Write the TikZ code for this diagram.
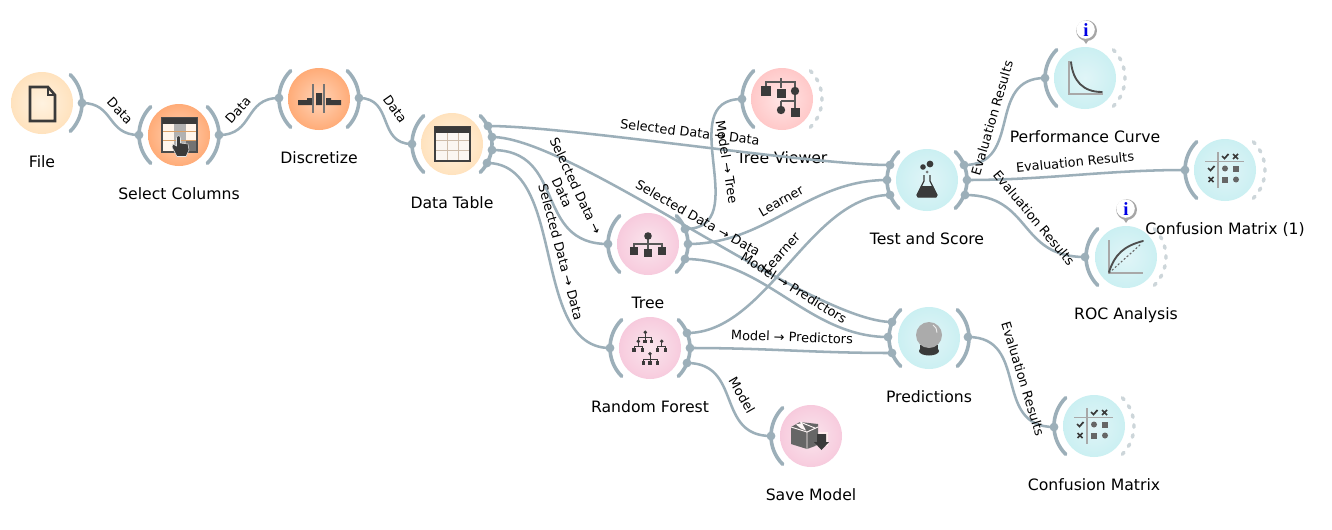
\documentclass[tikz,border=0pt]{standalone}
\usepackage{fontspec}
\setmainfont{DejaVu Sans}
\newfontfamily\infofont{Liberation Serif}
\usetikzlibrary{calc}
\definecolor{linkgray}{HTML}{9CAFB9}
\definecolor{dashgray}{HTML}{CDD6DA}
\definecolor{icondark}{HTML}{3A3A3A}
\definecolor{icongray}{HTML}{A8A8A8}
\pgfdeclareradialshading{wfile}{\pgfpoint{0bp}{0bp}}{rgb(0bp)=(1,0.95,0.88);rgb(24bp)=(1,0.89,0.75);rgb(35bp)=(1,0.84,0.64);rgb(50bp)=(1,0.84,0.64)}
\pgfdeclareradialshading{wtrans}{\pgfpoint{0bp}{0bp}}{rgb(0bp)=(1,0.83,0.72);rgb(24bp)=(1,0.68,0.48);rgb(35bp)=(1,0.59,0.34);rgb(50bp)=(1,0.59,0.34)}
\pgfdeclareradialshading{wpink}{\pgfpoint{0bp}{0bp}}{rgb(0bp)=(0.98,0.90,0.93);rgb(24bp)=(0.97,0.80,0.87);rgb(35bp)=(0.965,0.72,0.82);rgb(50bp)=(0.965,0.72,0.82)}
\pgfdeclareradialshading{wteal}{\pgfpoint{0bp}{0bp}}{rgb(0bp)=(0.88,0.96,0.97);rgb(24bp)=(0.80,0.94,0.95);rgb(35bp)=(0.72,0.93,0.94);rgb(50bp)=(0.72,0.93,0.94)}
\pgfdeclareradialshading{wsalmon}{\pgfpoint{0bp}{0bp}}{rgb(0bp)=(1,0.90,0.90);rgb(24bp)=(1,0.79,0.79);rgb(35bp)=(1,0.70,0.70);rgb(50bp)=(1,0.70,0.70)}
\tikzset{
  wbody/.style={circle,draw=none,minimum size=46.5pt,inner sep=0pt,shading=#1},
  chan/.style={draw=linkgray,line width=2.7pt,line cap=round},
  chandash/.style={draw=dashgray,line width=2.6pt,line cap=round,dash pattern=on 1.9pt off 5.63pt},
  link/.style={draw=linkgray,line width=1.9pt},
  portdot/.style={fill=linkgray},
  wtitle/.style={font=\fontsize{11.75}{13}\selectfont,inner sep=0pt,text=black,yshift=-0.5pt},
  elab/.style={font=\fontsize{9.65}{11.4}\selectfont,inner sep=0pt,text=black,align=center},
  ic/.style={fill=icondark,draw=none},
  icl/.style={draw=icondark!85,line width=0.9pt},
  infotext/.style={font=\infofont\bfseries\fontsize{14}{14}\selectfont,text=blue!90!black,inner sep=0pt},
}
\newcommand{\wdg}[6]{% name x y shading titleY title
  \node[wbody=#4] (#1) at (#2,#3) {};
  \node[wtitle] (#1-t) at (#2,#5) {#6};
}
\newcommand{\chanin}[1]{\draw[chan] (#1.center) ++(135:40) arc (135:225:40);}
\newcommand{\chanout}[1]{\draw[chan] (#1.center) ++(45:40) arc (45:-45:40);}
\newcommand{\chanopen}[1]{\draw[chandash] (#1.center) ++(45:40) arc (45:-45:40);}
\newcommand{\mkport}[3]{\coordinate (#1) at (#2,#3);\fill[portdot] (#1) circle (4.4);}
% link: horizontal handles, half the distance between the ports, capped at 80 px (60 pt)
\newcommand{\lnk}[2]{\draw[link] let \p1=($(#1)-(#2)$),\n1={min(0.5*veclen(\x1,\y1),60pt)} in (#1) .. controls +(\n1,0) and +(-\n1,0) .. (#2);}
\newcommand{\sq}[3]{\fill[ic] ({#1-#3},{#2-#3}) rectangle ({#1+#3},{#2+#3});}
\newcommand{\dotc}[3]{\fill[ic] (#1,#2) circle (#3);}
\newcommand{\cmicon}[1]{%
\begin{scope}[shift={(#1.center)}]
 \draw[icongray,line width=1.1pt] (-7,-18) -- (-7,18);
 \draw[icongray,line width=1.1pt] (-20,-8.5) -- (19,-8.5);
 \draw[icondark,line width=1.3pt] (-3,-14) -- (-0.5,-11.5) -- (3.5,-16);
 \draw[icondark,line width=1.3pt] (8,-16) -- (13,-11) (13,-16) -- (8,-11);
 \draw[icondark,line width=1.3pt] (-17,-2) -- (-14.5,0.5) -- (-10.5,-4);
 \draw[icondark,line width=1.3pt] (-16.5,7) -- (-11.5,12) (-11.5,7) -- (-16.5,12);
 \fill[black!60] (0,-1.5) circle (3);
 \fill[black!60] (8,-4.5) rectangle (14,1.5);
 \fill[black!60] (-3,6.5) rectangle (3,12.5);
 \fill[black!60] (11,9.5) circle (3);
\end{scope}}
\newcommand{\infobubble}[3]{%
 \fill[black!35] (#2+0.6,#3+0.6) circle (10.4);
 \fill[black!35] (#2-4,#3+8) -- (#2,#3+14) -- (#2+4,#3+8) -- cycle;
 \fill[white] (#2-0.4,#3-0.4) circle (9.2);
 \node[infotext] (#1) at (#2,#3) {i};}
\begin{document}
\begin{tikzpicture}[x=0.75pt,y=-0.75pt]
\useasboundingbox (0,0) rectangle (1332,529);
\fill[white] (0,0) rectangle (1332,529);
% ---------- widgets
\wdg{file}{42}{103}{wfile}{161}{File}
\wdg{sel}{179}{135}{wtrans}{193}{Select Columns}
\wdg{disc}{319}{99}{wtrans}{157}{Discretize}
\wdg{dt}{452}{144}{wfile}{202}{Data Table}
\wdg{tv}{782}{99}{wsalmon}{157}{Tree Viewer}
\wdg{tree}{648}{244}{wpink}{302}{Tree}
\wdg{rf}{650}{348}{wpink}{406}{Random Forest}
\wdg{ts}{927}{180}{wteal}{238}{Test and Score}
\wdg{pred}{929}{338}{wteal}{396}{Predictions}
\wdg{save}{811}{436}{wpink}{494}{Save Model}
\wdg{perf}{1085}{78}{wteal}{136}{Performance Curve}
\wdg{cma}{1225}{170}{wteal}{229}{Confusion Matrix (1)}
\wdg{roc}{1126}{257}{wteal}{315}{ROC Analysis}
\wdg{cmb}{1094}{426}{wteal}{484}{Confusion Matrix}
% ---------- channel arcs
\chanout{file}
\chanin{sel}\chanout{sel}
\chanin{disc}\chanout{disc}
\chanin{dt}\chanout{dt}
\chanin{tv}\chanopen{tv}
\chanin{tree}\chanout{tree}
\chanin{rf}\chanout{rf}
\chanin{ts}\chanout{ts}
\chanin{pred}\chanout{pred}
\chanin{save}
\chanin{perf}\chanopen{perf}
\chanin{cma}\chanopen{cma}
\chanin{roc}\chanopen{roc}
\chanin{cmb}\chanopen{cmb}
% ---------- ports
\mkport{file-o}{82}{103}
\mkport{sel-i}{139}{135}\mkport{sel-o}{219}{135}
\mkport{disc-i}{279}{98}\mkport{disc-o}{359}{98}
\mkport{dt-i}{412}{144}
\mkport{dt-o1}{488}{126}\mkport{dt-o2}{492}{137}\mkport{dt-o3}{492}{150}\mkport{dt-o4}{487}{163}
\mkport{tv-i}{742}{99}
\mkport{tree-i}{608}{244}
\mkport{tree-o1}{685}{229}\mkport{tree-o2}{688}{244}\mkport{tree-o3}{685}{259}
\mkport{rf-i}{610}{348}
\mkport{rf-o1}{687}{333}\mkport{rf-o2}{690}{348}\mkport{rf-o3}{687}{363}
\mkport{ts-i1}{890}{165}\mkport{ts-i2}{887}{180}\mkport{ts-i3}{890}{195}
\mkport{ts-o1}{964}{165}\mkport{ts-o2}{967}{180}\mkport{ts-o3}{965}{195}
\mkport{pred-i1}{892}{322}\mkport{pred-i2}{888}{337}\mkport{pred-i3}{892}{353}
\mkport{pred-o}{968}{337}
\mkport{save-i}{771}{436}
\mkport{perf-i}{1045}{78}
\mkport{cma-i}{1185}{170}
\mkport{roc-i}{1085}{257}
\mkport{cmb-i}{1054}{427}
% ---------- links
\lnk{file-o}{sel-i}
\lnk{sel-o}{disc-i}
\lnk{disc-o}{dt-i}
\lnk{dt-o1}{ts-i1}
\lnk{dt-o2}{pred-i1}
\lnk{dt-o3}{tree-i}
\lnk{dt-o4}{rf-i}
\lnk{tree-o1}{tv-i}
\lnk{tree-o2}{ts-i2}
\lnk{tree-o3}{pred-i2}
\lnk{rf-o1}{ts-i3}
\lnk{rf-o2}{pred-i3}
\lnk{rf-o3}{save-i}
\lnk{ts-o1}{perf-i}
\lnk{ts-o2}{cma-i}
\lnk{ts-o3}{roc-i}
\lnk{pred-o}{cmb-i}
% ---------- icons
\begin{scope}[shift={(file.center)}]
 \draw[icondark,line width=1.9pt,line join=miter] (-12,-16) -- (6,-16) -- (13,-8) -- (13,18) -- (-12,18) -- cycle;
 \draw[icondark,line width=0.9pt] (6,-16) -- (6,-8) -- (13,-8);
\end{scope}
\begin{scope}[shift={(sel.center)}]
 \fill[white!92!orange] (-17,-17) rectangle (18,17);
 \fill[icongray!90] (-5,-12) rectangle (7,17);
 \fill[black!55] (7,6) rectangle (18,17);
 \draw[black!25!orange!60,line width=0.5pt] (-17,-4) -- (18,-4) (-17,5) -- (18,5);
 \draw[black!70,line width=1.1pt] (-17,-17) rectangle (18,17);
 \fill[icondark] (-17,-17) rectangle (18,-11.5);
 \fill[icondark,draw=white!80!gray,line width=0.4pt] (-2.5,3) .. controls (-2.5,0) and (1.5,0) .. (1.5,3) -- (1.5,8) -- (9,9) -- (10,15) -- (7,21.5) -- (-2,21.5) -- (-7,12) -- (-6,9) -- (-2.5,11) -- cycle;
\end{scope}
\begin{scope}[shift={(disc.center)}]
 \fill[icondark] (-21,1) rectangle (-12,6) (-12,-1) rectangle (-7,6) (-3,-6) rectangle (3,6) (7,-1) rectangle (12,6) (12,1) rectangle (22,6);
 \draw[icondark!70,line width=1pt] (-6,-15) -- (-6,14) (5,-15) -- (5,14);
\end{scope}
\begin{scope}[shift={(dt.center)}]
 \fill[white!93!brown] (-17,-17) rectangle (18,17);
 \draw[black!30!brown!40,line width=0.6pt] (-17,-4) -- (18,-4) (-17,6) -- (18,6) (-5,-12) -- (-5,17) (6,-12) -- (6,17);
 \draw[black!75,line width=1.1pt] (-17,-17) rectangle (18,17);
 \fill[icondark] (-17,-17) rectangle (18,-11);
\end{scope}
\begin{scope}[shift={(tv.center)}]
 \draw[icl] (-16,-13) -- (-16,-17) -- (13,-17) -- (13,-8) (-1,-21) -- (-1,-11) (-1,2) -- (13,2) (-1,2) -- (-1,7) (13,-4) -- (13,9);
 \sq{-16}{-8}{5}\sq{-1}{-6}{4.5}\dotc{13}{-8}{4.2}\dotc{-1}{11}{4.2}\sq{13}{13}{4.5}
\end{scope}
\begin{scope}[shift={(tree.center)}]
 \draw[icl] (-14,4) -- (-14,0) -- (14,0) -- (14,4) (0,-8) -- (0,6);
 \dotc{0}{-8}{3.8}\sq{-14}{7}{3.8}\sq{0}{9}{3.8}\sq{14}{7}{3.8}
\end{scope}
\begin{scope}[shift={(rf.center)}]
 \draw[icondark,line width=0.5pt] (-4.7,-15.7) -- (-4.7,-11) (-11.7,-6.7) -- (-11.7,-11) -- (1.7,-11) -- (1.7,-6.7) (-5,-11) -- (-5,-6.7)
  (-11.7,-6.7) -- (-11.7,-1.5) (-16,2) -- (-16,-1.5) -- (-7.7,-1.5) -- (-7.7,2)
  (11.7,-6.7) -- (11.7,-1.5) (7.3,2) -- (7.3,-1.5) -- (15.7,-1.5) -- (15.7,2)
  (0,5.7) -- (0,11) (-6.7,15) -- (-6.7,11) -- (7.3,11) -- (7.3,15) (0,11) -- (0,15);
 \dotc{-4.7}{-15.7}{1.9}\dotc{-11.7}{-6.7}{1.9}\sq{-5}{-6.7}{1.7}\sq{1.7}{-6.7}{1.7}\dotc{11.7}{-6.7}{1.9}
 \sq{-16}{2}{1.7}\sq{-7.7}{2}{1.7}\sq{7.3}{2}{1.7}\sq{15.7}{2}{1.7}
 \dotc{0}{5.7}{1.9}\sq{-6.7}{15}{1.7}\sq{0}{15}{1.7}\sq{7.3}{15}{1.7}
\end{scope}
\begin{scope}[shift={(ts.center)}]
 \draw[icondark,line width=0.9pt,line join=round] (-3,-5) -- (-3,1) -- (-10,15) -- (-9,17) -- (9,17) -- (10,15) -- (3,1) -- (3,-5);
 \fill[icondark] (-6,6) -- (6,6) -- (10,15) -- (9,17) -- (-9,17) -- (-10,15) -- cycle;
 \fill[icondark] (-4,-13) circle (2.8) (3,-16) circle (3.4);
 \fill[icondark!70] (0,-8) circle (1.5);
\end{scope}
\begin{scope}[shift={(pred.center)}]
 \fill[icondark] (0,13) ellipse (10 and 4.5);
 \fill[icondark] (-9,7) rectangle (9,12);
 \fill[black!33] (0,-3) circle (13);
 \draw[white!85!gray,line width=0.7pt] (4,-13) arc (-60:5:8);
\end{scope}
\begin{scope}[shift={(save.center)}]
 \fill[black!60] (-20,-9) -- (-11,-14) -- (7,-12) -- (7,9) -- (-4,13) -- (-20,8) -- cycle;
 \draw[white!85!pink,line width=0.7pt] (-20,-9) -- (-4,-4) -- (7,-9) (-4,-4) -- (-4,13) (-11,-14) -- (4,-8);
 \fill[white!85!pink] (-15,-11.5) -- (-9,-13) -- (-5,-5.5) -- (-10,-7.5) -- cycle;
 \fill[white!70!pink] (3,-4) rectangle (17,10) ;
 \fill[black!60] (3,-4) -- (7,-4) -- (7,9) -- (3,10) -- cycle;
 \fill[icondark] (6,-2) rectangle (15,6) (3,6) -- (18,6) -- (10.5,14) -- cycle;
\end{scope}
\begin{scope}[shift={(perf.center)}]
 \draw[icongray,line width=1.2pt] (-16,-17) -- (-16,16) -- (18,16);
 \draw[icondark!90,line width=1.4pt,line cap=round] (-14,-16) .. controls (-12,3) and (-2,14) .. (17,14);
\end{scope}
\begin{scope}[shift={(roc.center)}]
 \draw[icongray,line width=1.2pt] (-17,-17) -- (-17,16) -- (17,16);
 \draw[black!60,line width=0.8pt,dash pattern=on 1.5pt off 1.5pt] (-17,16) -- (15,-13);
 \draw[icondark!90,line width=1.4pt,line cap=round] (-17,15) .. controls (-11,-3) and (-2,-11) .. (17,-16);
\end{scope}
\cmicon{cma}
\cmicon{cmb}
% ---------- info bubbles
\infobubble{infoa}{1086}{30}
\infobubble{infob}{1126}{209}
% ---------- link labels
\node[elab,rotate=-47] (l1) at (120,111) {Data};
\node[elab,rotate=48] (l2) at (238,110) {Data};
\node[elab,rotate=-55] (l3) at (395,109) {Data};
\node[elab,rotate=-7] (l4) at (690,132) {Selected Data → Data};
\node[elab,rotate=-81] (l5) at (727,162) {Model → Tree};
\node[elab,rotate=-29.4] (l6) at (698,218) {Selected Data → Data};
\node[elab,rotate=-65] (l7) at (569,189) {Selected Data →\\Data};
\node[elab,rotate=-75] (l8) at (561,252) {Selected Data → Data};
\node[elab,rotate=30] (l9) at (781,201) {Learner};
\node[elab,rotate=48] (l10) at (781,253) {Learner};
\node[elab,rotate=-32] (l11) at (794,288) {Model → Predictors};
\node[elab,rotate=-2] (l12) at (792,337) {Model → Predictors};
\node[elab,rotate=-60] (l13) at (742,395) {Model};
\node[elab,rotate=73.6] (l14) at (992,118) {Evaluation Results};
\node[elab,rotate=5.5] (l15) at (1075,162) {Evaluation Results};
\node[elab,rotate=-50] (l16) at (1034,218) {Evaluation Results};
\node[elab,rotate=-73] (l17) at (1023,379) {Evaluation Results};
\end{tikzpicture}
\end{document}
